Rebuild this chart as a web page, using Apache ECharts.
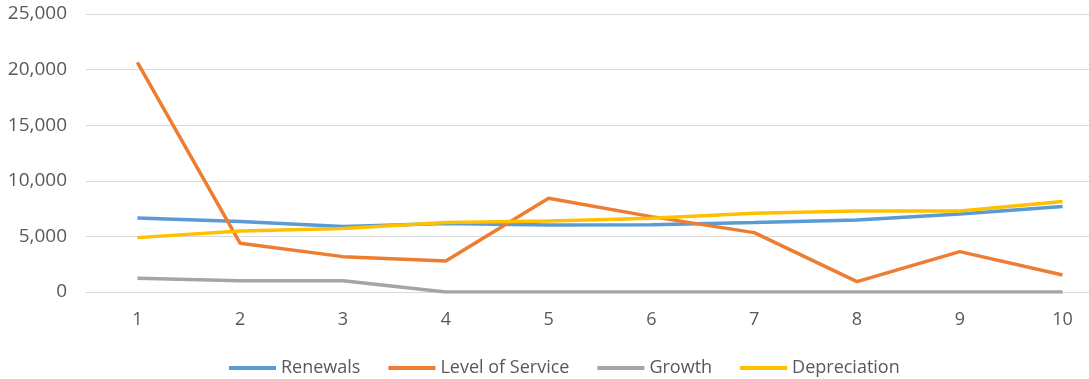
<!DOCTYPE html>
<html>
<head>
<meta charset="utf-8">
<script src="https://cdn.jsdelivr.net/npm/echarts@6/dist/echarts.min.js"></script>
<style>
html,body{margin:0;padding:0;background:#fff;overflow:hidden;width:1089px;height:379px;}
/* the plot area continues a little past the visible right edge */
#chart{width:1114px;height:379px;}
</style>
</head>
<body>
<div id="chart"></div>
<script>
// Yearly values per category
const years = ['1','2','3','4','5','6','7','8','9','10'];
const renewals = [6650, 6330, 5900, 6170, 6030, 6050, 6240, 6480, 7020, 7680];
const levelOfService = [20650, 4380, 3180, 2790, 8430, 6780, 5340, 930, 3630, 1530];
const growth = [1230, 1020, 1020, 0, 0, 0, 0, 0, 0, 0];
const depreciation = [4890, 5490, 5700, 6240, 6390, 6630, 7080, 7290, 7290, 8130];
const yTicks = { min: 0, max: 25000, interval: 5000 };

const font = "'Open Sans', sans-serif";
const textColor = '#595959';

function lineSeries(name, data, color) {
  return {
    name, type: 'line', data,
    symbol: 'none',
    lineStyle: { color, width: 3.5 },
    itemStyle: { color },
    z: 2
  };
}

const chart = echarts.init(document.getElementById('chart'));
chart.setOption({
  animation: false,
  grid: { left: 86, right: 0, top: 14, bottom: 87, containLabel: false },
  legend: {
    top: 354,
    left: 224,
    itemWidth: 47,
    itemHeight: 4,
    itemGap: 28,
    icon: 'rect',
    textStyle: { color: textColor, fontFamily: font, fontSize: 18 },
    data: ['Renewals', 'Level of Service', 'Growth', 'Depreciation']
  },
  xAxis: {
    type: 'category',
    data: years,
    boundaryGap: true,
    axisLine: { show: true, lineStyle: { color: '#d9d9d9', width: 1 } },
    axisTick: { show: false },
    axisLabel: { color: textColor, fontFamily: font, fontSize: 18, margin: 19 }
  },
  yAxis: {
    type: 'value',
    min: yTicks.min, max: yTicks.max, interval: yTicks.interval,
    axisLine: { show: false },
    axisTick: { show: false },
    splitLine: { lineStyle: { color: '#d9d9d9', width: 1 } },
    axisLabel: {
      color: textColor, fontFamily: font, fontSize: 19, margin: 19,
      formatter: v => v.toLocaleString('en-US')
    }
  },
  series: [
    lineSeries('Renewals', renewals, '#5B9BD5'),
    lineSeries('Level of Service', levelOfService, '#ED7D31'),
    lineSeries('Growth', growth, '#A5A5A5'),
    lineSeries('Depreciation', depreciation, '#FFC000')
  ]
});
</script>
</body>
</html>
